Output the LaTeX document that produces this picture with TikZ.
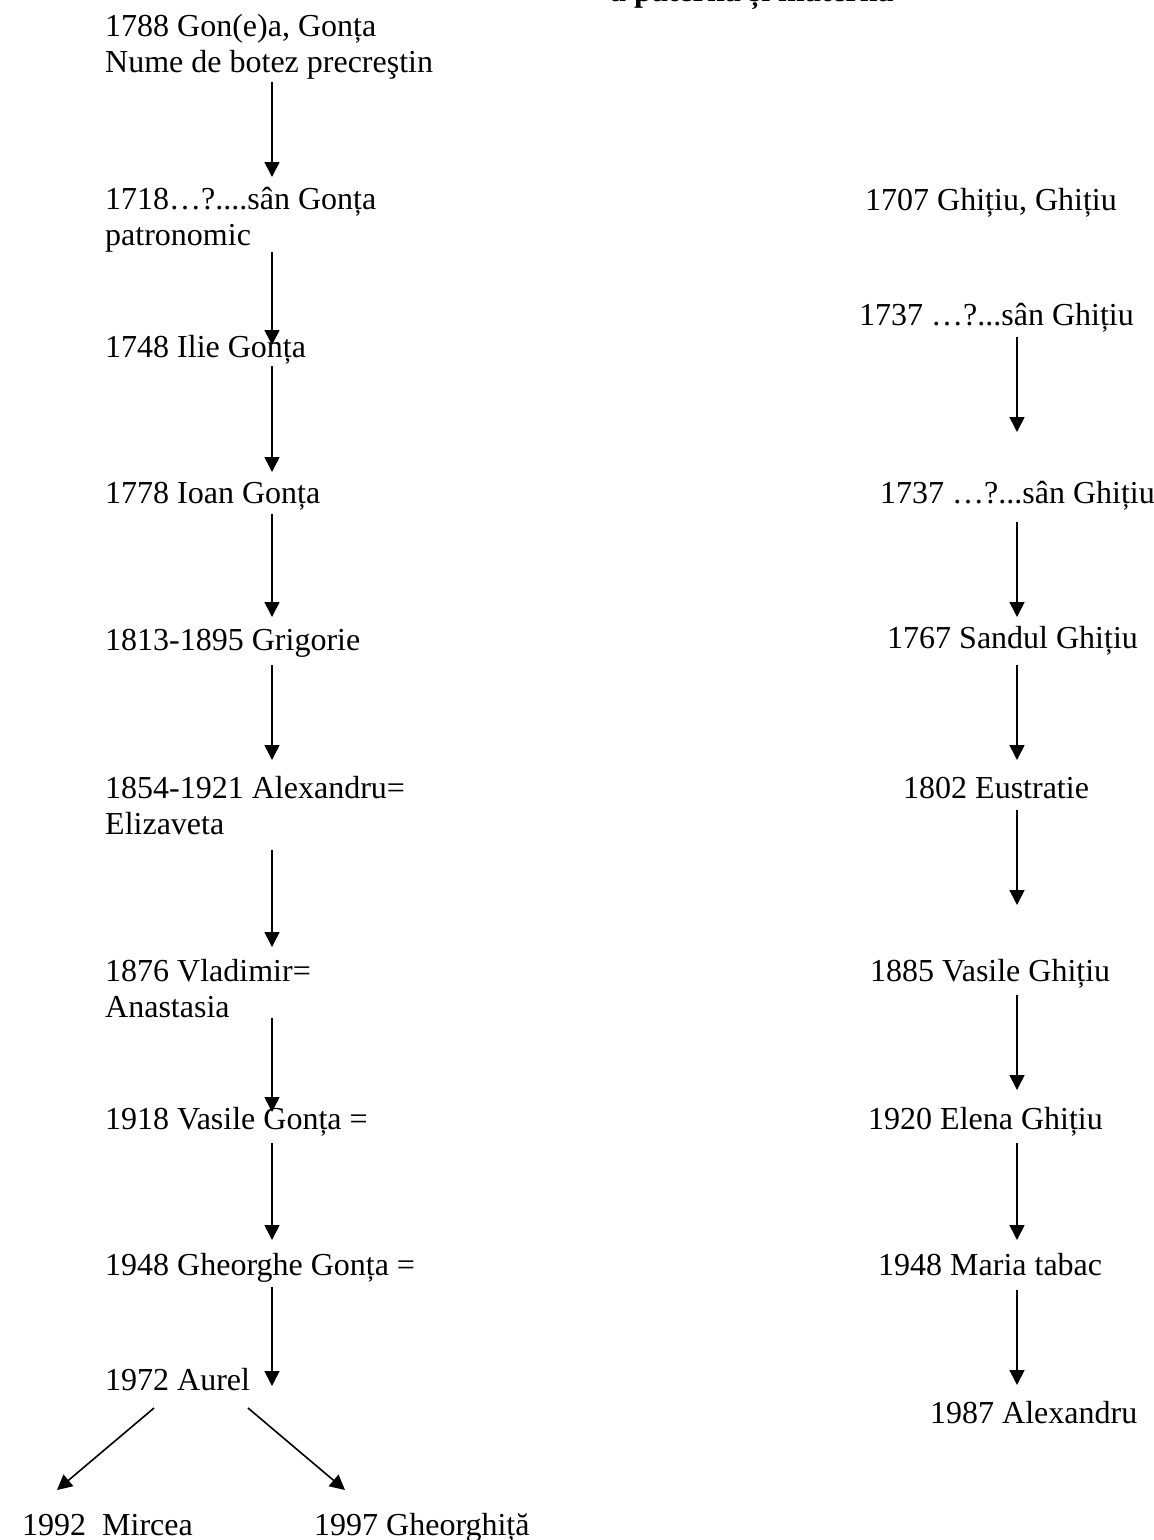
\documentclass[tikz,border=0pt]{standalone}
\usepackage{fontspec}
\setmainfont{Liberation Serif}
\usetikzlibrary{arrows.meta}
\newcommand{\twoline}[2]{\begin{tabular}[t]{@{}l@{}}#1\\#2\end{tabular}}
\begin{document}
\begin{tikzpicture}[x=1pt,y=-1pt,
  entry/.style={anchor=base west, inner sep=0pt, font=\fontsize{32}{36.5}\selectfont},
  ttl/.style={anchor=base west, inner sep=0pt, font=\fontsize{32}{36.5}\selectfont\bfseries},
  arr/.style={line width=1.6pt, -{Triangle[width=15pt,length=15pt]}}]
\useasboundingbox (0,0) rectangle (1154,1540);

% title (mostly cut off at the top edge)
\node[ttl] (title) at (610,1.5) {a paternă și maternă};

% left column
\node[entry] (l1) at (105,36)   {\twoline{1788 Gon(e)a, Gonța}{Nume de botez precreştin}};
\node[entry] (l2) at (105,209)  {\twoline{1718…?....sân Gonța}{patronomic}};
\node[entry] (l3) at (105,357)  {1748 Ilie Gonța};
\node[entry] (l4) at (105,503)  {1778 Ioan Gonța};
\node[entry] (l5) at (105,650)  {1813-1895 Grigorie};
\node[entry] (l6) at (105,798)  {\twoline{1854-1921 Alexandru=}{Elizaveta}};
\node[entry] (l7) at (105,981)  {\twoline{1876 Vladimir=}{Anastasia}};
\node[entry] (l8) at (105,1129) {1918 Vasile Gonța =};
\node[entry] (l9) at (105,1275) {1948 Gheorghe Gonța =};
\node[entry] (l10) at (105,1390) {1972 Aurel};
\node[entry] (c1) at (22,1535)  {1992\ \ Mircea};
\node[entry] (c2) at (314,1535) {1997 Gheorghiță};

% right column
\node[entry] (r1) at (865,210)  {1707 Ghițiu, Ghițiu};
\node[entry] (r2) at (859,325)  {1737 …?...sân Ghițiu};
\node[entry] (r3) at (880,503)  {1737 …?...sân Ghițiu};
\node[entry] (r4) at (887,648)  {1767 Sandul Ghițiu};
\node[entry] (r5) at (903,798)  {1802 Eustratie};
\node[entry] (r6) at (870,981)  {1885 Vasile Ghițiu};
\node[entry] (r7) at (868,1129) {1920 Elena Ghițiu};
\node[entry] (r8) at (878,1275) {1948 Maria tabac};
\node[entry] (r9) at (930,1423) {1987 Alexandru};

% left arrows
\coordinate (ls1) at (272,82);   \coordinate (le1) at (272,177);
\coordinate (ls2) at (272,252);  \coordinate (le2) at (272,345);
\coordinate (ls3) at (272,366);  \coordinate (le3) at (272,472);
\coordinate (ls4) at (272,514);  \coordinate (le4) at (272,617);
\coordinate (ls5) at (272,665);  \coordinate (le5) at (272,760);
\coordinate (ls6) at (272,850);  \coordinate (le6) at (272,947);
\coordinate (ls7) at (272,1018); \coordinate (le7) at (272,1112);
\coordinate (ls8) at (272,1143); \coordinate (le8) at (272,1240);
\coordinate (ls9) at (272,1287); \coordinate (le9) at (272,1386);
\foreach \i in {1,...,9} \draw[arr] (ls\i) -- (le\i);

% diagonal arrows to children
\coordinate (ds1) at (154,1408); \coordinate (de1) at (57,1490);
\coordinate (ds2) at (248,1408); \coordinate (de2) at (345,1490);
\draw[arr] (ds1) -- (de1);
\draw[arr] (ds2) -- (de2);

% right arrows
\coordinate (rs1) at (1017,337);  \coordinate (re1) at (1017,432);
\coordinate (rs2) at (1017,522);  \coordinate (re2) at (1017,617);
\coordinate (rs3) at (1017,665);  \coordinate (re3) at (1017,760);
\coordinate (rs4) at (1017,810);  \coordinate (re4) at (1017,905);
\coordinate (rs5) at (1017,995);  \coordinate (re5) at (1017,1090);
\coordinate (rs6) at (1017,1143); \coordinate (re6) at (1017,1240);
\coordinate (rs7) at (1017,1290); \coordinate (re7) at (1017,1385);
\foreach \i in {1,...,7} \draw[arr] (rs\i) -- (re\i);
\end{tikzpicture}
\end{document}
